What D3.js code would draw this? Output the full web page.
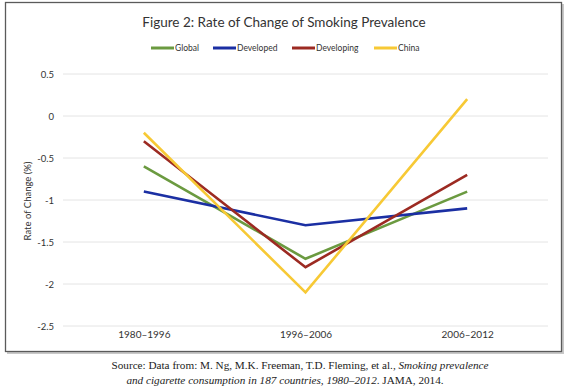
<!DOCTYPE html>
<html><head><meta charset="utf-8">
<script src="https://cdn.jsdelivr.net/npm/d3@7"></script>
<style>body{margin:0;background:#fff;}svg{display:block;}</style>
</head><body>
<svg id="c" width="570" height="392"></svg>
<script>
const categories = ["1980–1996", "1996–2006", "2006–2012"];
const seriesNames = ["Global", "Developed", "Developing", "China"];
const globalVals = [-0.6, -1.7, -0.9];
const developedVals = [-0.9, -1.3, -1.1];
const developingVals = [-0.3, -1.8, -0.7];
const chinaVals = [-0.2, -2.1, 0.2];
const yTicks = [0.5, 0, -0.5, -1, -1.5, -2, -2.5];
const colors = ["#6b9a40", "#1b2fa3", "#9c2a22", "#f7c935"];

const series = [globalVals, developedVals, developingVals, chinaVals].map((v, i) => ({name: seriesNames[i], values: v, color: colors[i]}));

const svg = d3.select("#c");
const font = "Lato, 'Open Sans', sans-serif";

// frame with shadow
svg.append("rect").attr("x", 7).attr("y", 4).attr("width", 557).attr("height", 350).attr("fill", "#c8c8c8");
svg.append("rect").attr("x", 5.5).attr("y", 2.5).attr("width", 556).attr("height", 349).attr("fill", "#fff").attr("stroke", "#5a5a5a").attr("stroke-width", 1.3);

const x = d3.scalePoint().domain(categories).range([63, 548]).padding(0.5);
const y = d3.scaleLinear().domain([-2.5, 0.5]).range([326, 74]);

// gridlines
svg.append("g").selectAll("line").data(yTicks).join("line")
  .attr("x1", 63).attr("x2", 548)
  .attr("y1", d => y(d)).attr("y2", d => y(d))
  .attr("stroke", "#e4e4e4").attr("stroke-width", 1);

// y axis labels
const yAxis = d3.axisLeft(y).tickValues(yTicks).tickSize(0).tickPadding(0).tickFormat(d => String(d));
const ya = svg.append("g").attr("transform", "translate(54,0)").call(yAxis);
ya.select(".domain").remove();
ya.selectAll("text").attr("font-family", font).attr("font-size", 9.5).attr("fill", "#333");

// x axis labels
const xAxis = d3.axisBottom(x).tickSize(0).tickPadding(0);
const xa = svg.append("g").attr("transform", "translate(0,331)").call(xAxis);
xa.select(".domain").remove();
xa.selectAll("text").attr("font-family", font).attr("font-size", 10).attr("fill", "#333");

// y title
svg.append("text").attr("transform", "translate(31,201) rotate(-90)")
  .attr("text-anchor", "middle").attr("font-family", font).attr("font-size", 9.5).attr("fill", "#333")
  .text("Rate of Change (%)");

// lines
const line = d3.line().x((d, i) => x(categories[i])).y(d => y(d));
svg.append("g").selectAll("path").data(series).join("path")
  .attr("d", d => line(d.values))
  .attr("fill", "none").attr("stroke", d => d.color).attr("stroke-width", 2.6)
  .attr("stroke-linejoin", "miter");

// title
svg.append("text").attr("x", 284).attr("y", 27).attr("text-anchor", "middle")
  .attr("font-family", font).attr("font-size", 13.5).attr("fill", "#333")
  .text("Figure 2: Rate of Change of Smoking Prevalence");

// legend
const legX = [151, 213, 292, 374];
const lg = svg.append("g").selectAll("g").data(series).join("g")
  .attr("transform", (d, i) => `translate(${legX[i]},48)`);
lg.append("line").attr("x1", 0).attr("x2", 23).attr("y1", 0).attr("y2", 0)
  .attr("stroke", d => d.color).attr("stroke-width", 3);
lg.append("text").attr("x", 24).attr("y", 3.2).attr("font-family", font).attr("font-size", 8.5).attr("fill", "#333")
  .text(d => d.name);

// source
const src = svg.append("g").attr("font-family", "'Liberation Serif', 'DejaVu Serif', serif").attr("font-size", 11.2).attr("fill", "#222");
const t1 = src.append("text").attr("x", 300).attr("y", 369).attr("text-anchor", "middle");
t1.append("tspan").text("Source: Data from: M. Ng, M.K. Freeman, T.D. Fleming, et al., ");
t1.append("tspan").attr("font-style", "italic").text("Smoking prevalence");
const t2 = src.append("text").attr("x", 285).attr("y", 384).attr("text-anchor", "middle");
t2.append("tspan").attr("font-style", "italic").text("and cigarette consumption in 187 countries, 1980–2012");
t2.append("tspan").text(". JAMA, 2014.");
</script>
</body></html>
